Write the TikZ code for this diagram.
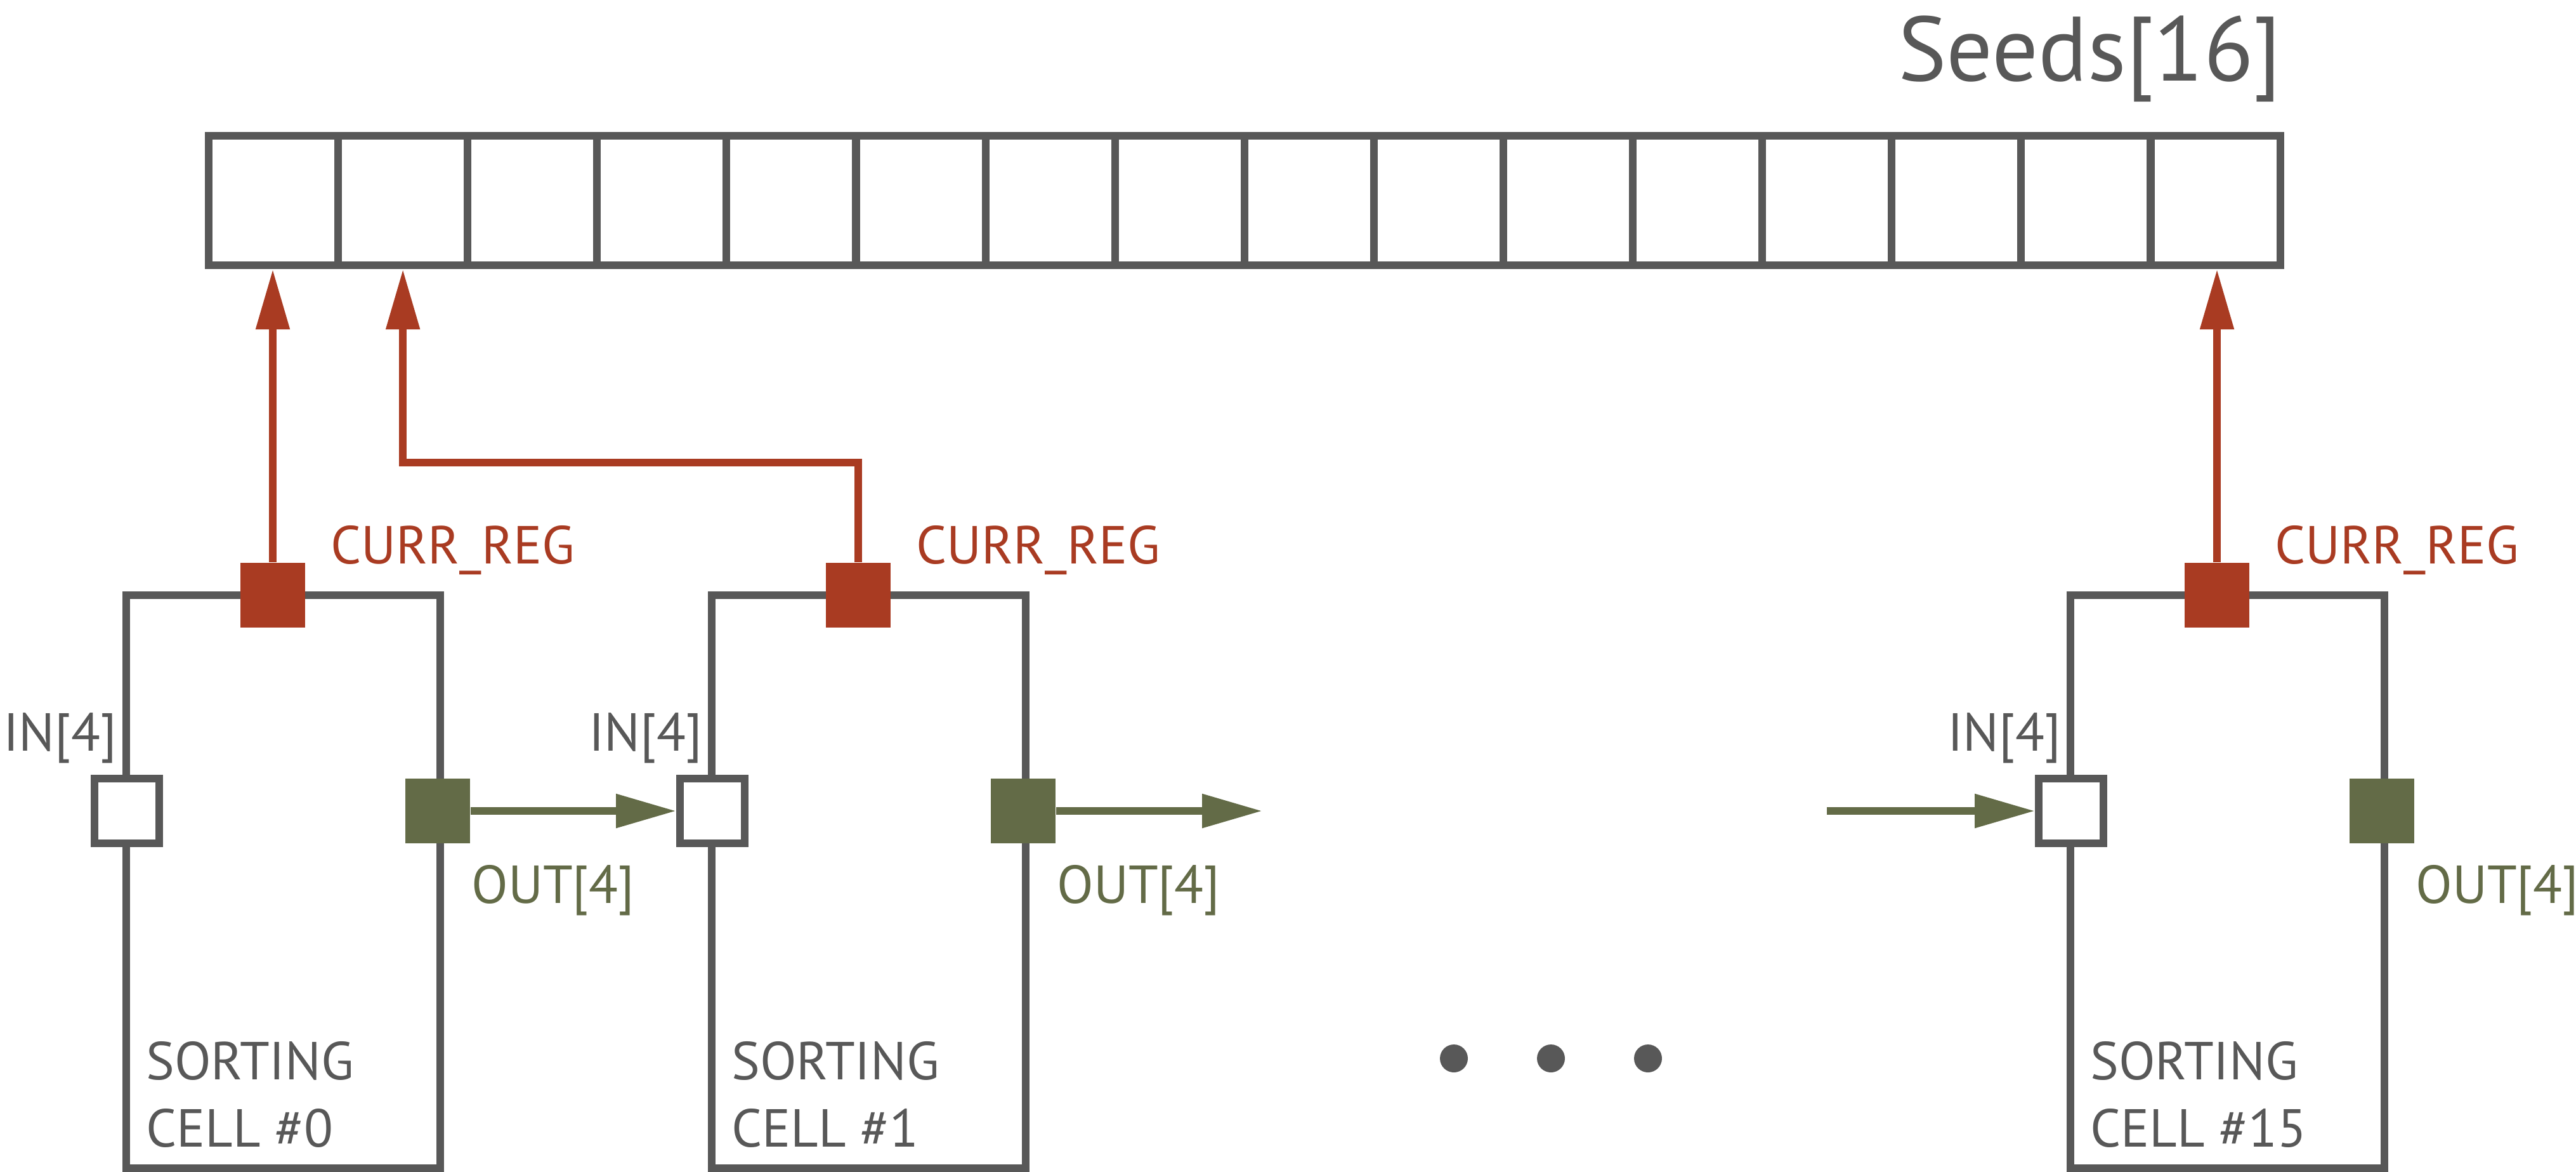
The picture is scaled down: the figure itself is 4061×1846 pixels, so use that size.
\documentclass[tikz,border=0pt]{standalone}
\usepackage{fontspec}
\setmainfont{PT Sans}
\usepackage{tikz}
\usetikzlibrary{positioning,arrows.meta,calc}
\usepackage{xcolor}

\definecolor{linegray}{HTML}{585858}
\definecolor{regred}{HTML}{A93B22}
\definecolor{outgreen}{HTML}{636B47}

\begin{document}
\begin{tikzpicture}[
    x=0.05mm, y=-0.05mm,
    font=\fontsize{12}{15}\selectfont,
    >={Triangle[length=4.75mm, width=2.55mm]},
    seedcell/.style={draw=linegray, line width=0.6mm, inner sep=0pt, minimum width=10.21mm, minimum height=10.22mm},
    cellbox/.style={draw=linegray, line width=0.6mm, inner sep=0pt, minimum width=24.75mm, minimum height=45.15mm},
    port/.style={inner sep=0pt, minimum size=5.1mm},
    regport/.style={port, fill=regred},
    inport/.style={port, draw=linegray, line width=0.6mm, fill=white},
    outport/.style={port, fill=outgreen},
    reglabel/.style={text=regred, inner sep=0pt},
    inlabel/.style={text=linegray, inner sep=0pt},
    outlabel/.style={text=outgreen, inner sep=0pt},
    celltext/.style={text=linegray, inner sep=0pt, align=left},
    regarrow/.style={->, line width=0.6mm, draw=regred},
    dataarrow/.style={->, line width=0.6mm, draw=outgreen}
]
\useasboundingbox (0,0) rectangle (4061,1846);

% --- Seeds array ---
\foreach \i in {0,...,15}
  \node[seedcell] (seed\i) at ({329+204.1*(\i+0.5)}, 316) {};
\node[inlabel, anchor=base east, font=\fontsize{20.5}{25}\selectfont] (title) at (3598,127) {Seeds[16]};

% --- Sorting cells ---
\foreach \x/\n in {199/0, 1122/1, 3264/15} {
  \node[cellbox] (cell\n) at (\x+247.5, 1389.25) {};
  \node[regport] (reg\n) at (\x+231, 938) {};
  \node[inport] (in\n) at (\x+1, 1278) {};
  \node[outport] (out\n) at (\x+491, 1278) {};
  \node[reglabel, anchor=base west] (reglab\n) at (\x+321, 888) {CURR\_REG};
  \node[inlabel, anchor=base west] (inlab\n) at (\x-195, 1183) {IN[4]};
  \node[outlabel, anchor=base west] (outlab\n) at (\x+543, 1423) {OUT[4]};
  \node[celltext, anchor=base west] (name\n) at (\x+30, 1807) {SORTING\\CELL \#\n};
}

% --- Chain ---
\coordinate (gapout) at (1990,1278);
\coordinate (gapin) at (2880,1278);
\draw[dataarrow] (out0.east) -- (in1.west);
\draw[dataarrow] (out1.east) -- (gapout);
\draw[dataarrow] (gapin) -- (in15.west);

\foreach \d in {0,1,2}
  \fill[linegray] (2292+153*\d, 1668) circle (1.1mm);

% --- Writes to Seeds ---
\draw[regarrow] (reg0.north) -- (reg0.north |- seed0.south);
\draw[regarrow] (reg1.north) -- ++(0,-157) -| (seed1.south);
\draw[regarrow] (reg15.north) -- (reg15.north |- seed15.south);

\end{tikzpicture}
\end{document}
